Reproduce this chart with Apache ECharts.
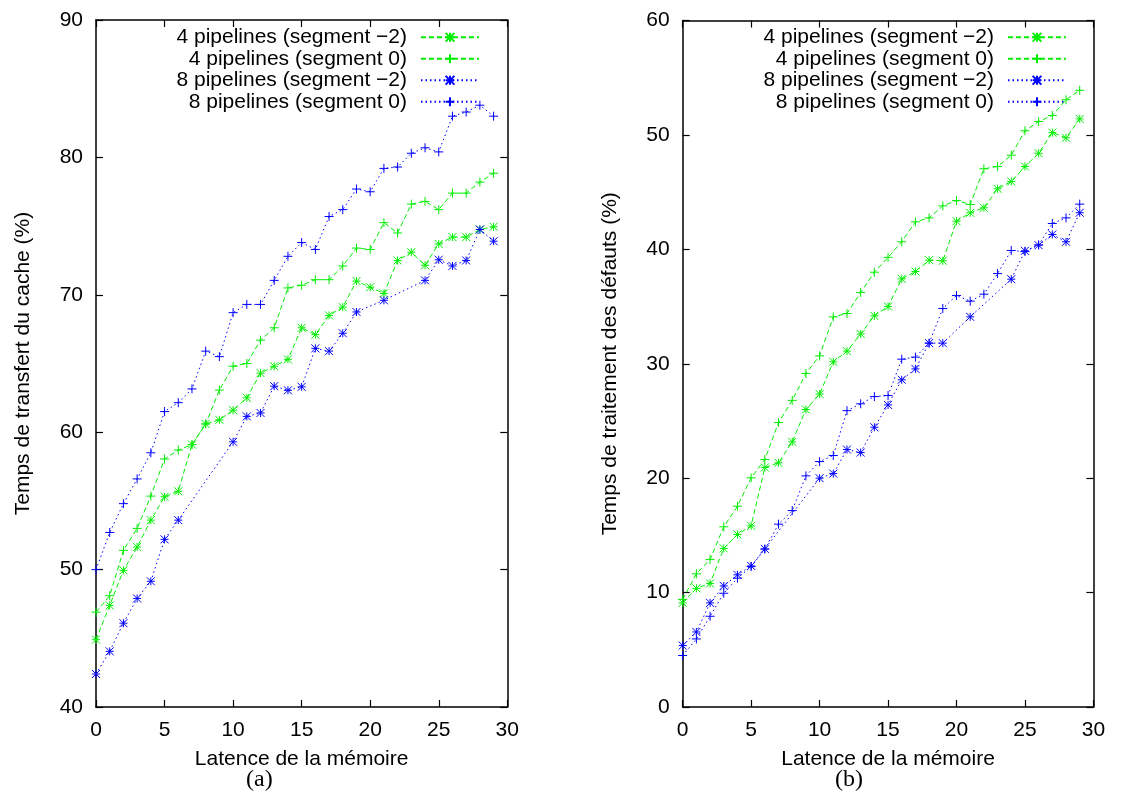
<!DOCTYPE html>
<html><head><meta charset="utf-8">
<script src="https://cdn.jsdelivr.net/npm/echarts@6/dist/echarts.min.js"></script>
<style>html,body{margin:0;padding:0;background:#fff}#c{width:1122px;height:800px}</style>
</head><body><div id="c"></div>
<script>
// ---- data ----
const xValues = [0,1,2,3,4,5,6,7,8,9,10,11,12,13,14,15,16,17,18,19,20,21,22,23,24,25,26,27,28,29];
const seriesNames = ['4 pipelines (segment \u22122)', '4 pipelines (segment 0)', '8 pipelines (segment \u22122)', '8 pipelines (segment 0)'];

// (a) Temps de transfert du cache (%)
const cache4seg2 = [44.9,47.4,49.95,51.65,53.6,55.3,55.7,59.1,60.6,60.9,61.6,62.5,64.3,64.8,65.3,67.6,67.1,68.5,69.1,71.0,70.55,70.1,72.5,73.1,72.15,73.7,74.2,74.2,74.75,74.95];
const cache4seg0 = [46.9,48.1,51.4,53.0,55.35,58.05,58.7,59.1,60.6,63.07,64.8,65.0,66.7,67.6,70.5,70.7,71.1,71.1,72.1,73.4,73.3,75.25,74.5,76.6,76.8,76.2,77.4,77.4,78.2,78.85];
const cache8seg2 = [42.4,44.05,46.1,47.9,49.15,52.2,53.6,null,null,null,59.3,61.15,61.4,63.35,63.05,63.3,66.1,65.9,67.2,68.75,null,69.6,null,null,71.05,72.55,72.1,72.5,74.75,73.9];
const cache8seg0 = [50.0,52.7,54.8,56.6,58.5,61.5,62.15,63.15,65.9,65.5,68.7,69.3,69.3,71.05,72.8,73.8,73.3,75.7,76.2,77.7,77.5,79.2,79.3,80.3,80.7,80.4,83.0,83.3,83.8,83.0];

// (b) Temps de traitement des défauts (%)
const fault4seg2 = [9.1,10.37,10.8,13.86,15.08,15.83,20.93,21.34,23.17,26.0,27.35,30.17,31.1,32.6,34.19,35.0,37.42,38.06,39.05,39.0,42.46,43.19,43.63,45.29,45.93,47.24,48.4,50.2,49.75,51.4];
const fault4seg0 = [9.4,11.64,12.9,15.75,17.55,20.03,21.63,24.86,26.8,29.15,30.69,34.1,34.39,36.23,38.0,39.3,40.66,42.4,42.75,43.8,44.27,43.92,47.04,47.24,48.23,50.36,51.17,51.7,53.07,53.9];
const fault8seg2 = [5.37,6.56,9.1,10.58,11.55,12.33,13.82,null,null,null,20.0,20.4,22.5,22.24,24.45,26.4,28.6,29.55,31.8,31.8,null,34.1,null,null,37.39,39.87,40.36,41.3,40.66,43.2];
const fault8seg0 = [4.5,5.95,7.93,9.94,11.26,12.27,13.8,15.98,17.17,20.2,21.45,21.98,25.9,26.5,27.13,27.22,30.4,30.58,31.8,34.83,35.96,35.47,36.08,37.88,39.9,39.8,40.39,42.26,42.75,43.95];

const xTicks = {min: 0, max: 30, interval: 5};
const yTicksA = {min: 40, max: 90, interval: 10};
const yTicksB = {min: 0, max: 60, interval: 10};
const xTitle = 'Latence de la mémoire';
const yTitleA = 'Temps de transfert du cache (%)';
const yTitleB = 'Temps de traitement des défauts (%)';
const captions = ['(a)', '(b)'];

// ---- styles ----
const FONT = '"Liberation Sans", Arial, Helvetica, sans-serif';
const GREEN = '#00ee00';
const BLUE = '#0000ff';
const ASTERISK = 'path://M0 5L10 5M5 0L5 10M0 0L10 10M10 0L0 10';
const PLUS = 'path://M0 5L10 5M5 0L5 10';
const styles = [
  {color: GREEN, dash: [5, 3], symbol: ASTERISK, size: 8},
  {color: GREEN, dash: [5, 3], symbol: PLUS, size: 9},
  {color: BLUE, dash: [1.5, 3], symbol: ASTERISK, size: 8},
  {color: BLUE, dash: [1.5, 3], symbol: PLUS, size: 9}
];

function pairs(arr) {
  const out = [];
  arr.forEach((v, i) => { if (v !== null) out.push([xValues[i], v]); });
  return out;
}
function mkSeries(arrs, gi) {
  return arrs.map((arr, k) => ({
    name: seriesNames[k], type: 'line', xAxisIndex: gi * 2, yAxisIndex: gi * 2,
    data: pairs(arr), connectNulls: true,
    symbol: styles[k].symbol, symbolSize: styles[k].size,
    itemStyle: {color: styles[k].color, borderColor: styles[k].color, borderWidth: 1},
    lineStyle: {color: styles[k].color, width: 1, type: styles[k].dash},
    emphasis: {disabled: true}, animation: false, z: 3 + k
  }));
}
const axLine = {show: true, onZero: false, lineStyle: {color: '#000', width: 1.5}};
const tick = {show: true, inside: true, length: 7, lineStyle: {color: '#000', width: 1.2}};
const lbl = {fontSize: 21, fontFamily: FONT, color: '#000'};
function xAxes(gi) {
  return [
    Object.assign({gridIndex: gi, type: 'value', position: 'bottom', axisLine: axLine, axisTick: tick,
      axisLabel: Object.assign({margin: 13}, lbl), splitLine: {show: false},
      name: xTitle, nameLocation: 'middle', nameGap: 42, nameTextStyle: lbl}, xTicks),
    Object.assign({gridIndex: gi, type: 'value', position: 'top', axisLine: axLine, axisTick: tick,
      axisLabel: {show: false}, splitLine: {show: false}}, xTicks)
  ];
}
function yAxes(gi, t, title, gap) {
  return [
    Object.assign({gridIndex: gi, type: 'value', position: 'left', axisLine: axLine, axisTick: tick,
      axisLabel: Object.assign({margin: 13}, lbl), splitLine: {show: false},
      name: title, nameLocation: 'middle', nameGap: gap, nameRotate: 90, nameTextStyle: lbl}, t),
    Object.assign({gridIndex: gi, type: 'value', position: 'right', axisLine: axLine, axisTick: tick,
      axisLabel: {show: false}, splitLine: {show: false}}, t)
  ];
}
function mkLegend(right) {
  return {
    orient: 'vertical', align: 'right', right: right, top: 26.5, padding: 0,
    itemWidth: 58, itemHeight: 11, itemGap: 0, selectedMode: false,
    textStyle: {fontSize: 21, fontFamily: FONT, color: '#000', lineHeight: 21.5, padding: [0, 9, 0, 0]},
    data: seriesNames
  };
}

const chart = echarts.init(document.getElementById('c'), null, {renderer: 'canvas'});
chart.setOption({
  backgroundColor: '#fff',
  animation: false,
  grid: [
    {left: 96, top: 20, width: 411.3, height: 687, containLabel: false},
    {left: 682.7, top: 20.5, width: 410.7, height: 686.5, containLabel: false}
  ],
  xAxis: xAxes(0).concat(xAxes(1)),
  yAxis: yAxes(0, yTicksA, yTitleA, 62).concat(yAxes(1, yTicksB, yTitleB, 62)),
  legend: [mkLegend(642), mkLegend(55)],
  series: mkSeries([cache4seg2, cache4seg0, cache8seg2, cache8seg0], 0)
    .concat(mkSeries([fault4seg2, fault4seg0, fault8seg2, fault8seg0], 1)),
  graphic: [
    {type: 'text', left: 260 - 14, top: 768, style: {text: captions[0], font: '24px "Liberation Serif", "DejaVu Serif", serif', fill: '#000'}},
    {type: 'text', left: 849 - 14, top: 768, style: {text: captions[1], font: '24px "Liberation Serif", "DejaVu Serif", serif', fill: '#000'}}
  ]
});
</script></body></html>
